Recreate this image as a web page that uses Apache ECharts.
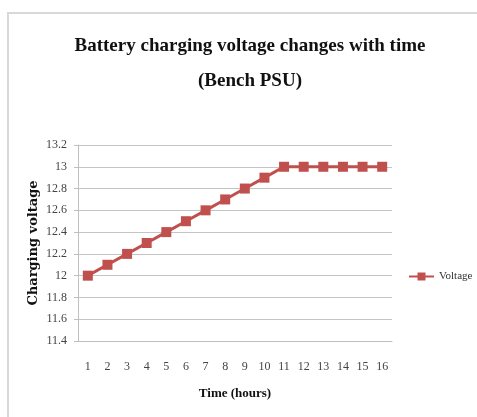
<!DOCTYPE html>
<html>
<head>
<meta charset="utf-8">
<script src="https://cdn.jsdelivr.net/npm/echarts@6/dist/echarts.min.js"></script>
<style>
  html, body { margin: 0; padding: 0; background: #fff; }
  #chart { width: 477px; height: 417px; }
</style>
</head>
<body>
<div id="chart"></div>
<script>
// 充电时间（小时）和电压
const hours = ['1', '2', '3', '4', '5', '6', '7', '8', '9', '10', '11', '12', '13', '14', '15', '16']
const voltage = [12.0, 12.1, 12.2, 12.3, 12.4, 12.5, 12.6, 12.7, 12.8, 12.9, 13, 13, 13, 13, 13, 13]
const yMin = 11.4
const yMax = 13.2
const yStep = 0.2

const serif = '"Liberation Serif", "DejaVu Serif", serif'
const red = '#c0504d'

const myChart = echarts.init(document.getElementById('chart'))
const option = {
  animation: false,
  backgroundColor: '#fff',
  title: {
    text: 'Battery charging voltage changes with time\n(Bench PSU)',
    left: 245,
    top: 24,
    textAlign: 'center',
    textStyle: {
      fontFamily: serif,
      fontWeight: 'bold',
      fontSize: 19,
      lineHeight: 35,
      color: '#111'
    }
  },
  // 外框
  graphic: [{
    type: 'rect',
    z: -10,
    shape: { x: 8, y: 13, width: 600, height: 600 },
    style: { fill: 'none', stroke: '#d8d8d8', lineWidth: 2 }
  }],
  legend: {
    data: ['Voltage'],
    left: 403,
    top: 266,
    itemWidth: 25,
    itemHeight: 10,
    textStyle: { fontFamily: serif, fontSize: 11, color: '#333' }
  },
  grid: {
    left: 78,
    right: 85,
    top: 145,
    bottom: 76
  },
  xAxis: {
    type: 'category',
    data: hours,
    boundaryGap: true,
    name: 'Time (hours)',
    nameLocation: 'middle',
    nameGap: 46,
    nameMoveOverlap: false,
    nameTextStyle: { fontFamily: serif, fontWeight: 'bold', fontSize: 13, color: '#111' },
    axisLine: { lineStyle: { color: '#bfbfbf', width: 1 } },
    axisTick: { show: false },
    axisLabel: { fontFamily: serif, fontSize: 12, color: '#444', margin: 20 }
  },
  yAxis: {
    type: 'value',
    min: yMin,
    max: yMax,
    interval: yStep,
    name: 'Charging voltage',
    nameLocation: 'middle',
    nameGap: 38,
    nameMoveOverlap: false,
    nameTextStyle: { fontFamily: '"DejaVu Serif", serif', fontWeight: 'bold', fontSize: 13, color: '#111' },
    axisLine: { show: true, lineStyle: { color: '#bfbfbf', width: 1 } },
    axisTick: { show: true, length: 4, lineStyle: { color: '#bfbfbf' } },
    axisLabel: {
      fontFamily: serif, fontSize: 12, color: '#444', margin: 11,
      formatter: v => String(Math.round(v * 10) / 10)
    },
    splitLine: { lineStyle: { color: '#c4c4c4', width: 1 } }
  },
  series: [{
    name: 'Voltage',
    type: 'line',
    data: voltage,
    symbol: 'rect',
    symbolSize: 10,
    itemStyle: { color: red },
    lineStyle: { color: red, width: 3 }
  }]
}

myChart.setOption(option)
window.onresize = () => { myChart.resize() }
</script>
</body>
</html>
